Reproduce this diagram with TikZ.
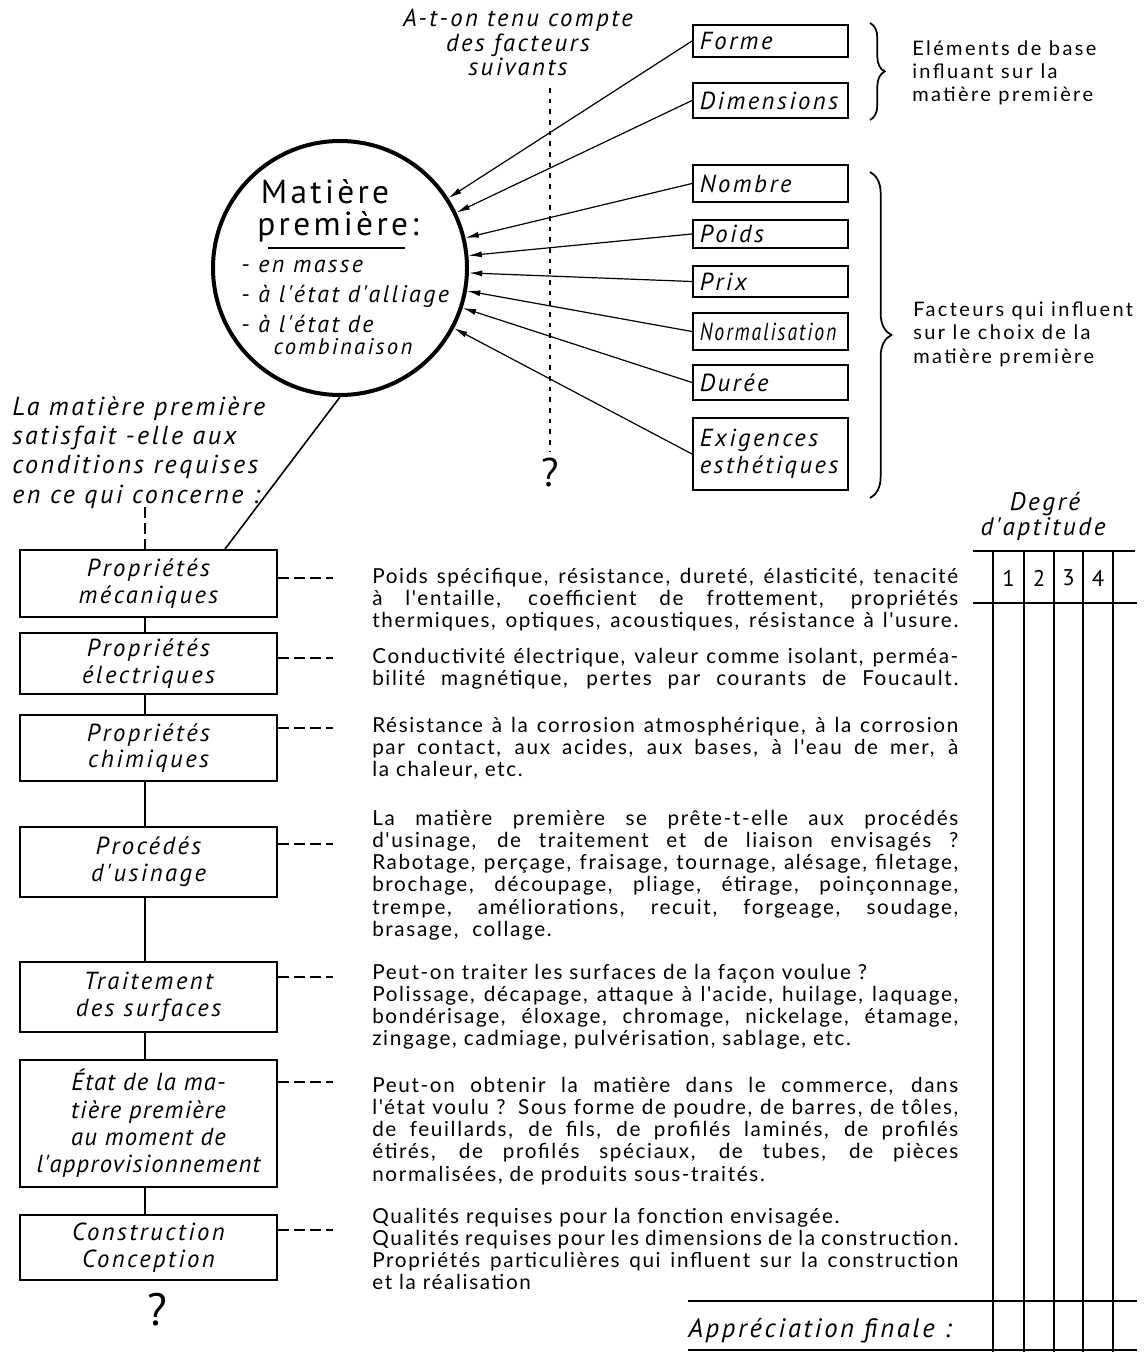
\documentclass[tikz,border=0pt]{standalone}
\usepackage{fontspec}
\setmainfont{Lato}
\newfontfamily\hand[LetterSpace=10]{PT Sans}
\newfontfamily\handn[LetterSpace=5]{PT Sans}
\newfontfamily\body[LetterSpace=8]{Lato}
\newfontfamily\bodyw[LetterSpace=12]{Lato}
\usetikzlibrary{arrows.meta,decorations.pathreplacing}
\newcommand\JL[1]{{\spaceskip=0.28em plus 1.5em minus 0.08em\makebox[439.5pt][s]{#1}}}
\begin{document}
\begin{tikzpicture}[x=0.75pt,y=-0.75pt,
  hb/.style={draw, line width=1.5pt, inner sep=0pt},
  lbox/.style={hb, minimum width=192.75pt, align=center, font=\hand\itshape\fontsize{18.5}{20}\selectfont},
  rbox/.style={hb, minimum width=116.25pt, text width=106pt, align=left, font=\hand\itshape\fontsize{18.5}{20}\selectfont},
  arr/.style={-{Latex[length=10pt,width=4.5pt]}, line width=0.9pt},
  conn/.style={line width=1.2pt},
  lead/.style={line width=1.1pt, dash pattern=on 8pt off 4pt},
  dots/.style={line width=1pt, dash pattern=on 3.5pt off 4.5pt},
  para/.style={anchor=base west, text width=439.5pt, align=justify, inner sep=0pt, font=\body\fontsize{15.5}{16.7}\selectfont},
  brc/.style={decorate, decoration={brace, amplitude=11pt}, line width=1.3pt},
  grid/.style={line width=1.3pt},
  lab/.style={inner sep=0pt}
]
\fill[white] (0,0) rectangle (1148,1352);
\useasboundingbox (0,0) rectangle (1148,1352);

% ---------- top question and dotted line
\node[lab, anchor=base, align=center, font=\hand\itshape\fontsize{18.5}{18.4}\selectfont] (q) at (518,76) {A-t-on tenu compte\\des facteurs\\suivants};
\coordinate (d1) at (550,88);
\coordinate (d2) at (550,452);
\draw[dots] (d1) -- (d2);
\node[lab, font=\hand\fontsize{30}{32}\selectfont] (qm1) at (550,472) {?};

% ---------- circle
\node[circle, draw, line width=3pt, minimum size=190.5pt, inner sep=0pt] (mp) at (340,268) {};
\node[lab, anchor=base, font=\hand\fontsize{25}{26}\selectfont] (t1) at (325,203) {Matière};
\node[lab, anchor=base, font=\hand\fontsize{25}{26}\selectfont] (t2) at (338,235) {première:};
\coordinate (u1) at (268,248);
\coordinate (u2) at (405,248);
\draw[line width=1.8pt] (u1) -- (u2);
\node[lab, anchor=base west, align=left, font=\hand\itshape\fontsize{18}{22.5}\selectfont] (t3) at (241,332) {- en masse\\- à l'état d'alliage\\- à l'état de};
\node[lab, anchor=base, font=\hand\itshape\fontsize{17}{17}\selectfont] (t4) at (343,354) {combinaison};

% ---------- right boxes
\node[rbox, minimum height=24pt] (forme) at (770.5,41) {Forme};
\node[rbox, minimum height=26.25pt] (dim) at (770.5,100.5) {Dimensions};
\node[rbox, minimum height=27.75pt] (nom) at (770.5,183.5) {Nombre};
\node[rbox, minimum height=21pt] (poi) at (770.5,234) {Poids};
\node[rbox, minimum height=23.25pt] (pri) at (770.5,281.5) {Prix};
\node[rbox, minimum height=27.75pt] (nor) at (770.5,331.5) {\scalebox{0.8}[1]{Normalisation}};
\node[rbox, minimum height=26.25pt] (dur) at (770.5,382.5) {Durée};
\node[rbox, minimum height=54pt] (exi) at (770.5,454) {Exigences\\esthétiques};

\foreach \b in {forme,dim,nom,poi,pri,nor,dur,exi}
  \draw[arr] (\b.west) -- (mp);

% ---------- braces and their texts
\coordinate (b1a) at (870,23);
\coordinate (b1b) at (870,120);
\draw[brc] (b1a) -- (b1b);
\coordinate (b2a) at (870,172);
\coordinate (b2b) at (870,498);
\draw[brc, decoration={amplitude=16pt}] (b2a) -- (b2b);
\node[lab, anchor=base west, align=left, font=\bodyw\fontsize{15}{17.6}\selectfont] (eb) at (912,102) {Eléments de base\\influant sur la\\matière première};
\node[lab, anchor=base west, align=left, font=\bodyw\fontsize{15}{17.4}\selectfont] (fq) at (913,363) {Facteurs qui influent\\sur le choix de la\\matière première};

% ---------- left question
\node[lab, anchor=base west, align=left, font=\hand\itshape\fontsize{19.5}{22}\selectfont] (lq) at (12,503) {La matière première\\satisfait -elle aux\\conditions requises\\en ce qui concerne :};

% ---------- left boxes
\node[lbox, minimum height=50.25pt] (mec) at (148.5,583.5) {Propriétés\\mécaniques};
\node[lbox, minimum height=45.75pt] (ele) at (148.5,663.5) {Propriétés\\électriques};
\node[lbox, minimum height=49.5pt] (chi) at (148.5,748) {Propriétés\\chimiques};
\node[lbox, minimum height=52.5pt] (usi) at (148.5,862) {Procédés\\d'usinage};
\node[lbox, minimum height=52.5pt] (sur) at (148.5,997) {Traitement\\des surfaces};
\node[lbox, minimum height=95.25pt, font=\handn\itshape\fontsize{18.5}{20.5}\selectfont] (eta) at (148.5,1123.5) {État de la ma-\\tière première\\au moment de\\l'approvisionnement};
\node[lbox, minimum height=48.75pt] (con) at (148.5,1247.5) {Construction\\Conception};
\node[lab, font=\hand\fontsize{34}{36}\selectfont] (qm2) at (157,1310) {?};

\coordinate (v1) at (145,507);
\draw[lead] (v1) -- (v1 |- mec.north);
\draw[conn] (mp.south) -- ([xshift=57.4pt]mec.north);
\foreach \a/\b in {mec/ele,ele/chi,chi/usi,usi/sur,sur/eta,eta/con}
  \draw[conn] ([xshift=-2.6pt]\a.south) -- ([xshift=-2.6pt]\b.north);

% leaders
\coordinate (l1) at (333,578);
\coordinate (l2) at (333,658);
\coordinate (l3) at (333,728);
\coordinate (l4) at (333,844);
\coordinate (l5) at (333,977);
\coordinate (l6) at (333,1082);
\coordinate (l7) at (333,1230);
\draw[lead] (mec.east |- l1) -- (l1);
\draw[lead] (ele.east |- l2) -- (l2);
\draw[lead] (chi.east |- l3) -- (l3);
\draw[lead] (usi.east |- l4) -- (l4);
\draw[lead] (sur.east |- l5) -- (l5);
\draw[lead] (eta.east |- l6) -- (l6);
\draw[lead] (con.east |- l7) -- (l7);

% ---------- paragraphs
\node[para] (p1) at (372,583) {\JL{Poids spécifique, résistance, dureté, élasticité, tenacité}\\\JL{à l'entaille, coefficient de frottement, propriétés}\\\JL{thermiques, optiques, acoustiques, résistance à l'usure.}};
\node[para] (p2) at (372,663) {\JL{Conductivité électrique, valeur comme isolant, perméa-}\\\JL{bilité magnétique, pertes par courants de Foucault.}};
\node[para] (p3) at (372,732) {\JL{Résistance à la corrosion atmosphérique, à la corrosion}\\\JL{par contact, aux acides, aux bases, à l'eau de mer, à}\\la chaleur, etc.};
\node[para] (p4) at (372,825) {\JL{La matière première se prête-t-elle aux procédés}\\\JL{d'usinage, de traitement et de liaison envisagés~?}\\\JL{Rabotage, perçage, fraisage, tournage, alésage, filetage,}\\\JL{brochage, découpage, pliage, étirage, poinçonnage,}\\\JL{trempe, améliorations, recuit, forgeage, soudage,}\\brasage,\ \ collage.};
\node[para] (p5) at (372,979) {Peut-on traiter les surfaces de la façon voulue~?\\\JL{Polissage, décapage, attaque à l'acide, huilage, laquage,}\\\JL{bondérisage, éloxage, chromage, nickelage, étamage,}\\zingage, cadmiage, pulvérisation, sablage, etc.};
\node[para] (p6) at (372,1092) {\JL{Peut-on obtenir la matière dans le commerce, dans}\\\JL{l'état voulu~? Sous forme de poudre, de barres, de tôles,}\\\JL{de feuillards, de fils, de profilés laminés, de profilés}\\\JL{étirés, de profilés spéciaux, de tubes, de pièces}\\normalisées, de produits sous-traités.};
\node[para] (p7) at (372,1223) {Qualités requises pour la fonction envisagée.\\\JL{Qualités requises pour les dimensions de la construction.}\\\JL{Propriétés particulières qui influent sur la construction}\\et la réalisation};

% ---------- table
\node[lab, anchor=base, font=\hand\itshape\fontsize{19}{19}\selectfont] (dg) at (1045,510) {Degré};
\node[lab, anchor=base, font=\hand\itshape\fontsize{19}{19}\selectfont] (da) at (1043,535) {d'aptitude};
\draw[grid] (973,551) -- (1135,551);
\draw[grid] (973,603) -- (1137,603);
\draw[grid] (688,1301) -- (1137,1301);
\draw[grid] (688,1350) -- (1137,1350);
\foreach \x in {993,1024,1054,1083,1113}
  \draw[grid] (\x,551) -- (\x,1352);
\node[lab, font=\hand\fontsize{17}{19}\selectfont] (n1) at (1008.5,578) {1};
\node[lab, font=\hand\fontsize{17}{19}\selectfont] (n2) at (1039,578) {2};
\node[lab, font=\hand\fontsize{17}{19}\selectfont] (n3) at (1068.5,578) {3};
\node[lab, font=\hand\fontsize{17}{19}\selectfont] (n4) at (1098,578) {4};
\node[lab, anchor=base west, font=\hand\itshape\fontsize{20}{22}\selectfont] (af) at (688,1337) {Appréciation finale :};
\end{tikzpicture}
\end{document}
